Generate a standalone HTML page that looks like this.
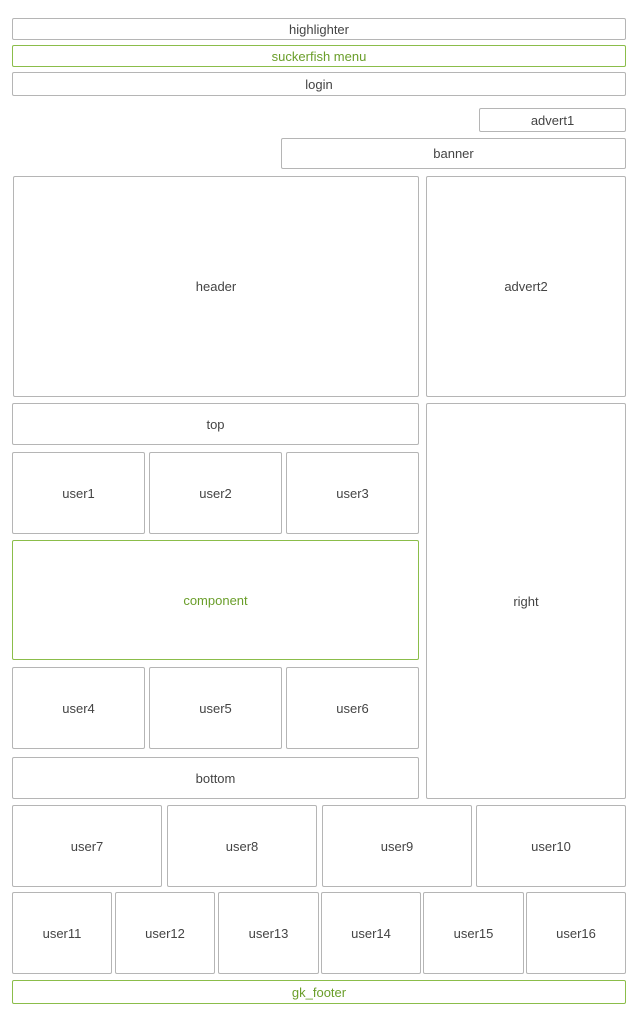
<!DOCTYPE html><html><head><style>
body{margin:0;width:639px;height:1024px;background:#fff;position:relative;font-family:"Liberation Sans",sans-serif;}
.b{position:absolute;box-sizing:border-box;border:1px solid #b5b5b5;border-radius:2px;display:flex;align-items:center;justify-content:center;font-size:13px;color:#444;}
.g{border-color:#8bbd4a;color:#6a9e2a;}
</style></head><body>
<div class="b" style="left:12px;top:18px;width:614px;height:22px">highlighter</div>
<div class="b g" style="left:12px;top:45px;width:614px;height:22px">suckerfish menu</div>
<div class="b" style="left:12px;top:72px;width:614px;height:24px">login</div>
<div class="b" style="left:479px;top:108px;width:147px;height:24px">advert1</div>
<div class="b" style="left:281px;top:138px;width:345px;height:31px">banner</div>
<div class="b" style="left:13px;top:176px;width:406px;height:221px">header</div>
<div class="b" style="left:426px;top:176px;width:200px;height:221px">advert2</div>
<div class="b" style="left:12px;top:403px;width:407px;height:42px">top</div>
<div class="b" style="left:426px;top:403px;width:200px;height:396px">right</div>
<div class="b" style="left:12px;top:452px;width:133px;height:82px">user1</div>
<div class="b" style="left:149px;top:452px;width:133px;height:82px">user2</div>
<div class="b" style="left:286px;top:452px;width:133px;height:82px">user3</div>
<div class="b g" style="left:12px;top:540px;width:407px;height:120px">component</div>
<div class="b" style="left:12px;top:667px;width:133px;height:82px">user4</div>
<div class="b" style="left:149px;top:667px;width:133px;height:82px">user5</div>
<div class="b" style="left:286px;top:667px;width:133px;height:82px">user6</div>
<div class="b" style="left:12px;top:757px;width:407px;height:42px">bottom</div>
<div class="b" style="left:12px;top:805px;width:150px;height:82px">user7</div>
<div class="b" style="left:167px;top:805px;width:150px;height:82px">user8</div>
<div class="b" style="left:322px;top:805px;width:150px;height:82px">user9</div>
<div class="b" style="left:476px;top:805px;width:150px;height:82px">user10</div>
<div class="b" style="left:12px;top:892px;width:100px;height:82px">user11</div>
<div class="b" style="left:115px;top:892px;width:100px;height:82px">user12</div>
<div class="b" style="left:218px;top:892px;width:101px;height:82px">user13</div>
<div class="b" style="left:321px;top:892px;width:100px;height:82px">user14</div>
<div class="b" style="left:423px;top:892px;width:101px;height:82px">user15</div>
<div class="b" style="left:526px;top:892px;width:100px;height:82px">user16</div>
<div class="b g" style="left:12px;top:980px;width:614px;height:24px">gk_footer</div>
</body></html>
